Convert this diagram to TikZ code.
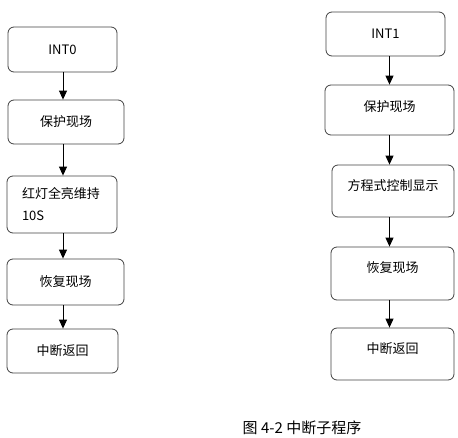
\documentclass[tikz,border=0pt]{standalone}
\usepackage{fontspec}
\setmainfont{Noto Sans CJK SC}
\usetikzlibrary{arrows.meta}

\begin{document}
\begin{tikzpicture}[x=1pt,y=-1pt,
		box/.style={draw=black!75,line width=0.8pt,rounded corners=6pt,inner sep=0pt,font=\fontsize{13}{15}\selectfont},
		lowbox/.style={box,text depth=12pt},
		flow/.style={draw=black,line width=0.9pt,-{Triangle[length=9pt,width=8pt]}}]
		\useasboundingbox (0,0) rectangle (458,437);
		
		% INT0
		\node[box,minimum width=109pt,minimum height=45pt] (int0) at (62.5,49.5) {INT0};
		\node[box,minimum width=116pt,minimum height=44pt] (save0) at (66,122) {保护现场};
		\node[box,minimum width=110pt,minimum height=57pt,text width=80pt,align=left] (red0) at (62,204.5) {红灯全亮维持\\[7pt]10S};
		\node[box,minimum width=117pt,minimum height=46pt] (restore0) at (65.5,282) {恢复现场};
		\node[box,minimum width=111pt,minimum height=44pt] (ret0) at (62.5,351) {中断返回};
		
		\coordinate (lx) at (63,0);
		\draw[flow] (int0.south -| lx) -- (save0.north -| lx);
		\draw[flow] (save0.south -| lx) -- (red0.north -| lx);
		\draw[flow] (red0.south -| lx) -- (restore0.north -| lx);
		\draw[flow] (restore0.south -| lx) -- (ret0.north -| lx);
		
		% INT1
		\node[box,minimum width=119pt,minimum height=44pt] (int1) at (385.5,34) {INT1};
		\node[box,minimum width=129pt,minimum height=50pt,text depth=7pt] (save1) at (389.5,110) {保护现场};
		\node[lowbox,minimum width=122pt,minimum height=52pt] (show1) at (393,191) {方程式控制显示};
		\node[lowbox,minimum width=123pt,minimum height=53pt] (restore1) at (392.5,273.5) {恢复现场};
		\node[lowbox,minimum width=123pt,minimum height=52pt] (ret1) at (392.5,354) {中断返回};
		
		\coordinate (rx) at (389.5,0);
		\draw[flow] (int1.south -| rx) -- (save1.north -| rx);
		\draw[flow] (save1.south -| rx) -- (show1.north -| rx);
		\draw[flow] (show1.south -| rx) -- (restore1.north -| rx);
		\draw[flow] (restore1.south -| rx) -- (ret1.north -| rx);
		
		\node[font=\fontsize{15}{17}\selectfont] (caption) at (302,428) {图 4-2 中断子程序};
	\end{tikzpicture}
\end{document}
